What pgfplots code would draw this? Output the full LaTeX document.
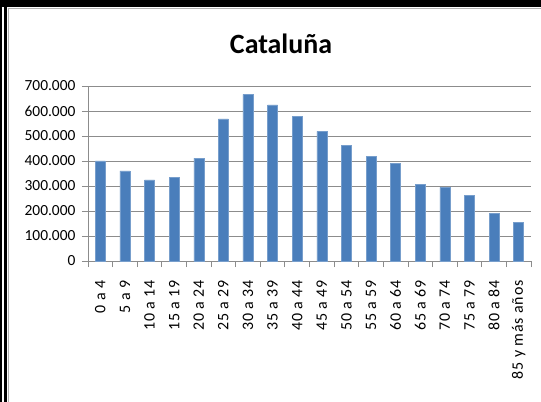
\documentclass[border=0pt]{standalone}
\usepackage{fontspec}
\setmainfont{Carlito}
\newfontfamily\xlabfont[LetterSpace=5]{Carlito}
\usepackage{pgfplots}
\pgfplotsset{compat=1.18}
\definecolor{barblue}{HTML}{4A7EBB}
\definecolor{gridgray}{HTML}{8C8C8C}

\begin{document}
\begin{tikzpicture}
\useasboundingbox (-88bp,-141bp) rectangle (453bp,261bp);
% marco exterior
\fill[black] (-88bp,261bp) rectangle (453bp,254bp);
\fill[black] (-88bp,261bp) rectangle (-86bp,-141bp);
\fill[black] (-84bp,254bp) rectangle (-81bp,-141bp);
\draw[gray!60,line width=1bp] (-79bp,-141bp) -- (-79bp,252bp) -- (453bp,252bp);

\begin{axis}[
  scale only axis,
  width=443bp, height=175bp,
  ybar, bar width=10bp,
  xmin=-0.5, xmax=17.5,
  ymin=0, ymax=700000,
  xtick={-0.5,0.5,...,17.5},
  x tick label as interval,
  xticklabels={0 a 4,5 a 9,10 a 14,15 a 19,20 a 24,25 a 29,30 a 34,35 a 39,40 a 44,45 a 49,50 a 54,55 a 59,60 a 64,65 a 69,70 a 74,75 a 79,80 a 84,85 y más años},
  ytick={0,100000,...,700000},
  scaled y ticks=false,
  yticklabel style={/pgf/number format/fixed, /pgf/number format/1000 sep={.}, /pgf/number format/assume math mode=true},
  y tick label style={font=\fontsize{15.5}{15.5}\selectfont},
  yticklabel shift=3bp,
  x tick label style={rotate=90, anchor=east, font=\xlabfont\fontsize{16}{16}\selectfont},
  xticklabel shift=10bp,
  ymajorgrids,
  grid style={gridgray, line width=0.8bp},
  axis x line*=bottom, axis y line*=left,
  axis line style={gridgray, line width=0.8bp},
  tick align=outside, major tick length=6bp,
  tick style={gridgray, line width=0.8bp},
]
\addplot[fill=barblue, draw=barblue!75!white, line width=0.5bp] coordinates {
  (0,401000) (1,361000) (2,325000) (3,336000) (4,412000) (5,569000)
  (6,667000) (7,625000) (8,578000) (9,519000) (10,462000) (11,418000)
  (12,390000) (13,307000) (14,295000) (15,263000) (16,191000) (17,155000)
};
\end{axis}
\node[font=\fontsize{28}{28}\selectfont\bfseries] at (193bp,217bp) {Cataluña};
\end{tikzpicture}
\end{document}
